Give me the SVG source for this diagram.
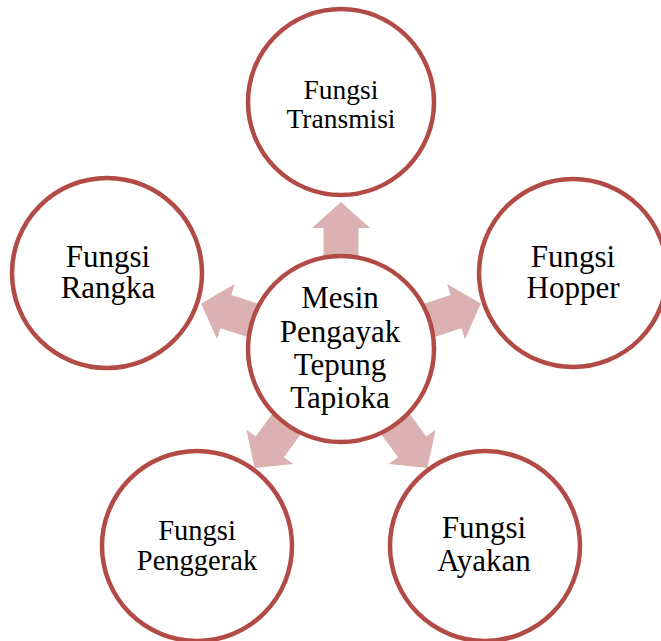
<svg xmlns="http://www.w3.org/2000/svg" width="661" height="641" viewBox="0 0 661 641">
  <defs>
    <style>
      .node { fill: #ffffff; stroke: #b24a46; stroke-width: 4.5; }
      .arrow { fill: #dcb1b1; stroke: none; }
      .lbl { font-family: "Liberation Serif", "Times New Roman", serif; fill: #000000; text-anchor: middle; }
    </style>
    <polygon id="arr" points="-17.5,-88 -17.5,-121 -29,-121 0,-147 29,-121 17.5,-121 17.5,-88"/>
  </defs>
  <rect width="661" height="641" fill="#ffffff"/>
  <g id="connectors" class="arrow" transform="translate(341,349)">
    <use href="#arr" transform="rotate(0)"/>
    <use href="#arr" transform="rotate(72)"/>
    <use href="#arr" transform="rotate(144)"/>
    <use href="#arr" transform="rotate(216)"/>
    <use href="#arr" transform="rotate(288)"/>
  </g>
  <g id="node-center">
    <circle class="node" cx="341" cy="349" r="93"/>
    <text class="lbl" font-size="31"><tspan x="340" y="308">Mesin</tspan><tspan x="340" y="342">Pengayak</tspan><tspan x="340" y="375">Tepung</tspan><tspan x="340" y="408">Tapioka</tspan></text>
  </g>
  <g id="node-transmisi">
    <circle class="node" cx="341" cy="102" r="93"/>
    <text class="lbl" font-size="27.5"><tspan x="341" y="99">Fungsi</tspan><tspan x="341" y="128">Transmisi</tspan></text>
  </g>
  <g id="node-hopper">
    <circle class="node" cx="573" cy="273" r="94"/>
    <text class="lbl" font-size="31"><tspan x="573" y="267">Fungsi</tspan><tspan x="573" y="298">Hopper</tspan></text>
  </g>
  <g id="node-rangka">
    <circle class="node" cx="107" cy="273" r="95"/>
    <text class="lbl" font-size="31"><tspan x="108" y="267">Fungsi</tspan><tspan x="108" y="298">Rangka</tspan></text>
  </g>
  <g id="node-penggerak">
    <circle class="node" cx="197" cy="546" r="95"/>
    <text class="lbl" font-size="28.5"><tspan x="197" y="540">Fungsi</tspan><tspan x="197" y="570">Penggerak</tspan></text>
  </g>
  <g id="node-ayakan">
    <circle class="node" cx="485" cy="546" r="95"/>
    <text class="lbl" font-size="31"><tspan x="484" y="538">Fungsi</tspan><tspan x="484" y="571">Ayakan</tspan></text>
  </g>
</svg>
